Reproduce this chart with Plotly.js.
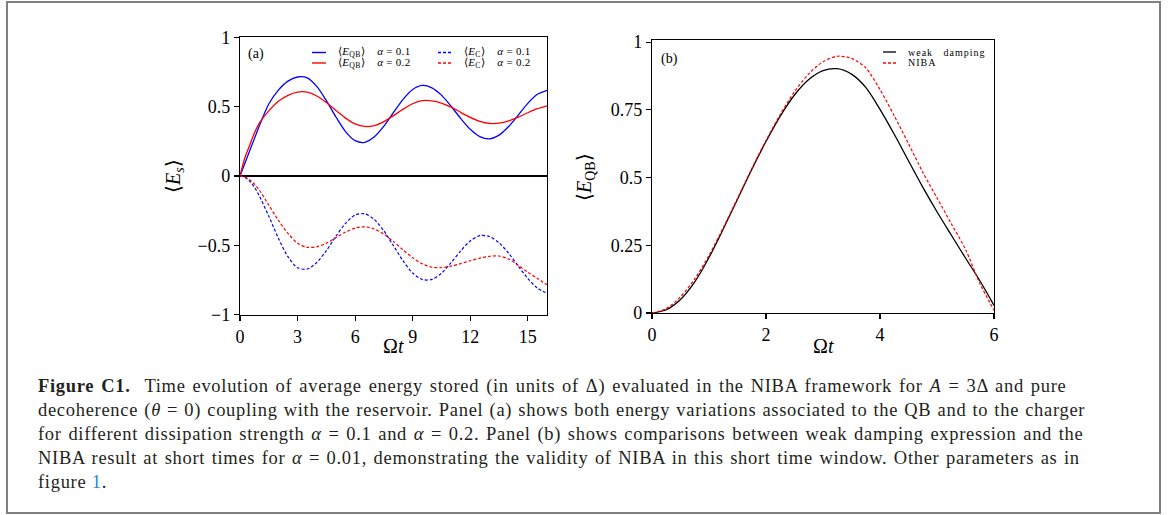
<!DOCTYPE html>
<html>
<head>
<meta charset="utf-8">
<script src="https://cdn.plot.ly/plotly-3.0.1.min.js"></script>
<style>html,body{margin:0;padding:0;background:#fff;}</style>
</head>
<body>
<div id="chart" style="width:1174px;height:515px;"></div>
<script>
// ---------- Data ----------
// Panel (a): time axis Omega*t
const tA = [0,0.25,0.5,0.75,1,1.5,2,2.5,3,3.5,4,4.5,5,5.5,6,6.5,7,7.5,8,8.5,9,9.5,10,10.5,11,11.5,12,12.5,13,13.5,14,14.5,15,15.5,16];
// <E_QB>, alpha = 0.1 (blue solid)
const eQB_a01 = [0,0.09,0.18,0.27,0.36,0.52,0.62,0.685,0.715,0.709,0.647,0.544,0.426,0.321,0.255,0.243,0.283,0.360,0.459,0.554,0.625,0.654,0.637,0.584,0.504,0.416,0.337,0.284,0.268,0.295,0.357,0.440,0.525,0.590,0.619];
// <E_QB>, alpha = 0.2 (red solid)
const eQB_a02 = [0,0.13,0.22,0.31,0.38,0.47,0.54,0.583,0.606,0.606,0.578,0.531,0.473,0.418,0.376,0.358,0.364,0.393,0.436,0.483,0.522,0.544,0.543,0.527,0.497,0.460,0.424,0.395,0.380,0.382,0.398,0.425,0.457,0.486,0.507];
// <E_C>, alpha = 0.1 (blue dashed)
const eC_a01 = [0,-0.009,-0.037,-0.08,-0.142,-0.29,-0.449,-0.583,-0.663,-0.672,-0.625,-0.539,-0.435,-0.342,-0.282,-0.273,-0.314,-0.397,-0.504,-0.613,-0.701,-0.748,-0.747,-0.702,-0.626,-0.541,-0.469,-0.431,-0.437,-0.482,-0.558,-0.650,-0.740,-0.810,-0.847];
// <E_C>, alpha = 0.2 (red dashed)
const eC_a02 = [0,-0.007,-0.027,-0.058,-0.10,-0.21,-0.32,-0.415,-0.485,-0.515,-0.511,-0.485,-0.445,-0.405,-0.376,-0.367,-0.383,-0.421,-0.474,-0.534,-0.591,-0.635,-0.659,-0.661,-0.651,-0.633,-0.612,-0.593,-0.580,-0.578,-0.600,-0.645,-0.695,-0.740,-0.785];

// Panel (b)
const tB = [0,0.25,0.5,0.75,1,1.25,1.5,1.75,2,2.25,2.5,2.75,3,3.25,3.5,3.75,4,4.25,4.5,4.75,5,5.25,5.5,5.75,6];
const weakDamping = [0,0.012,0.05,0.115,0.205,0.31,0.42,0.53,0.633,0.727,0.805,0.862,0.895,0.902,0.882,0.833,0.752,0.66,0.562,0.465,0.374,0.288,0.203,0.12,0.028];
const niba = [0,0.016,0.06,0.126,0.213,0.315,0.423,0.533,0.637,0.733,0.817,0.883,0.928,0.948,0.940,0.905,0.825,0.728,0.625,0.52,0.425,0.33,0.235,0.11,0.01];

// Tick labels
const ticksAx = [0,3,6,9,12,15];
const ticksAy = [-1,-0.5,0,0.5,1];
const ticksBx = [0,2,4,6];
const ticksBy = [0,0.25,0.5,0.75,1];
const ticksByText = ['0','0.25','0.5','0.75','1'];

// Legend / caption text
const gapA = '\u00a0\u00a0\u00a0\u00a0';
const legendA = [
  {text:'⟨<i>E</i><sub>QB</sub>⟩' + gapA + '<i>α</i> = 0.1', color:'#0000ff', dash:'solid'},
  {text:'⟨<i>E</i><sub>QB</sub>⟩' + gapA + '<i>α</i> = 0.2', color:'#ff0000', dash:'solid'},
  {text:'⟨<i>E</i><sub>C</sub>⟩' + gapA + '<i>α</i> = 0.1', color:'#0000ff', dash:'3px,2px'},
  {text:'⟨<i>E</i><sub>C</sub>⟩' + gapA + '<i>α</i> = 0.2', color:'#ff0000', dash:'3px,2px'}
];
const legendB = [
  {text:'weak\u00a0\u00a0\u00a0damping', color:'#000000', dash:'solid'},
  {text:'NIBA', color:'#ff0000', dash:'3px,2px'}
];
const captionLines = [
  '<b>Figure C1.</b>\u00a0\u00a0Time evolution of average energy stored (in units of Δ) evaluated in the NIBA framework for <i>A</i> = 3Δ and pure',
  'decoherence (<i>θ</i> = 0) coupling with the reservoir. Panel (a) shows both energy variations associated to the QB and to the charger',
  'for different dissipation strength <i>α</i> = 0.1 and <i>α</i> = 0.2. Panel (b) shows comparisons between weak damping expression and the',
  'NIBA result at short times for <i>α</i> = 0.01, demonstrating the validity of NIBA in this short time window. Other parameters as in',
  'figure <span style="color:#1a8ad4">1</span>.'
];
// per-line spacing used to mimic the justified caption
const captionSpacing = [[0.7,1.6],[0.7,0.8],[0.7,1.4],[0.7,1.2],[0.7,0]];

// ---------- Layout helpers ----------
const W = 1174, H = 515;
const px = x => x / W;
const py = y => 1 - y / H;
const serif = 'Liberation Serif, Times New Roman, serif';

const dashed = '3px,2px';
const traces = [
  {x:tA, y:eQB_a01, xaxis:'x', yaxis:'y', name:'⟨E_QB⟩ α = 0.1', line:{color:'#0000ff', width:1.3}},
  {x:tA, y:eQB_a02, xaxis:'x', yaxis:'y', name:'⟨E_QB⟩ α = 0.2', line:{color:'#ff0000', width:1.3}},
  {x:tA, y:eC_a01, xaxis:'x', yaxis:'y', name:'⟨E_C⟩ α = 0.1', line:{color:'#0000ff', width:1.2, dash:dashed}},
  {x:tA, y:eC_a02, xaxis:'x', yaxis:'y', name:'⟨E_C⟩ α = 0.2', line:{color:'#ff0000', width:1.2, dash:dashed}},
  {x:tB, y:weakDamping, xaxis:'x2', yaxis:'y2', name:'weak damping', line:{color:'#000000', width:1.3}},
  {x:tB, y:niba, xaxis:'x2', yaxis:'y2', name:'NIBA', line:{color:'#ff0000', width:1.2, dash:dashed}}
].map(t => Object.assign(t, {type:'scatter', mode:'lines', showlegend:false, hoverinfo:'skip',
  line:Object.assign({shape:'spline', smoothing:0.8}, t.line)}));

const axisCommon = {
  showline:true, mirror:true, linecolor:'#000', linewidth:1.2,
  ticks:'outside', ticklen:5, tickwidth:1.2, tickcolor:'#000',
  showgrid:false, zeroline:false,
  tickfont:{family:serif, size:18, color:'#000'}
};

const annotations = [];
const shapes = [];
function addAnn(text, x, y, opts) {
  annotations.push(Object.assign({text:text, xref:'paper', yref:'paper', x:px(x), y:py(y),
    showarrow:false, xanchor:'center', yanchor:'middle',
    font:{family:serif, size:18, color:'#000'}}, opts || {}));
}

// Axis titles and panel labels
addAnn('Ω<i>t</i>', 393, 346, {font:{family:serif, size:20, color:'#000'}});
addAnn('Ω<i>t</i>', 823, 346, {font:{family:serif, size:20, color:'#000'}});
addAnn('⟨<i>E</i><sub><i>s</i></sub>⟩', 175, 176, {textangle:-90, font:{family:serif, size:20, color:'#000'}});
addAnn('⟨<i>E</i><sub>QB</sub>⟩', 585, 177, {textangle:-90, font:{family:serif, size:20, color:'#000'}});
addAnn('(a)', 256, 54, {font:{family:serif, size:14, color:'#000'}});
addAnn('(b)', 669, 59, {font:{family:serif, size:14, color:'#000'}});

// Legend (panel a): two columns, two rows
const legAPos = [[312, 52.5], [312, 63], [438, 52.5], [438, 63]];
legendA.forEach((e, i) => {
  const [lx, ly] = legAPos[i];
  shapes.push({type:'line', xref:'paper', yref:'paper', x0:px(lx), x1:px(lx + 14), y0:py(ly), y1:py(ly),
    line:{color:e.color, width:1.4, dash:e.dash}});
  addAnn('<span style="letter-spacing:0.3px">' + e.text + '</span>', lx + 24, ly,
    {xanchor:'left', font:{family:serif, size:11, color:'#000'}});
});
// Legend (panel b)
const legBPos = [[883, 52], [883, 63]];
legendB.forEach((e, i) => {
  const [lx, ly] = legBPos[i];
  shapes.push({type:'line', xref:'paper', yref:'paper', x0:px(lx), x1:px(lx + 13), y0:py(ly), y1:py(ly),
    line:{color:e.color, width:1.3, dash:e.dash}});
  addAnn('<span style="letter-spacing:1px">' + e.text + '</span>', lx + 23, ly,
    {xanchor:'left', font:{family:serif, size:10, color:'#000'}});
});

// Caption
const capY = [386, 410, 434, 458, 482];
captionLines.forEach((s, i) => {
  const [ls, ws] = captionSpacing[i];
  addAnn('<span style="letter-spacing:' + ls + 'px;word-spacing:' + ws + 'px">' + s + '</span>', 36, capY[i],
    {xanchor:'left', font:{family:serif, size:18.5, color:'#231f20'}});
});

// Outer frame
shapes.push({type:'rect', xref:'paper', yref:'paper', x0:px(7), x1:px(1160), y0:py(513), y1:py(2),
  line:{color:'#808080', width:2}, layer:'below'});

const layout = {
  width:W, height:H, margin:{l:0, r:0, t:0, b:0},
  paper_bgcolor:'#fff', plot_bgcolor:'#fff', showlegend:false,
  xaxis:Object.assign({}, axisCommon, {domain:[px(240), px(547)], range:[0,16], tickvals:ticksAx, anchor:'y'}),
  yaxis:Object.assign({}, axisCommon, {domain:[py(315), py(37)], range:[-1.004,1.004], tickvals:ticksAy,
    zeroline:true, zerolinecolor:'#000', zerolinewidth:1.2, anchor:'x'}),
  xaxis2:Object.assign({}, axisCommon, {domain:[px(652), px(994)], range:[0,6], tickvals:ticksBx, anchor:'y2'}),
  yaxis2:Object.assign({}, axisCommon, {domain:[py(313), py(40)], range:[0,1.008], tickvals:ticksBy, ticktext:ticksByText, anchor:'x2'}),
  annotations:annotations, shapes:shapes
};

Plotly.newPlot('chart', traces, layout, {displayModeBar:false, staticPlot:true});
</script>
</body>
</html>
